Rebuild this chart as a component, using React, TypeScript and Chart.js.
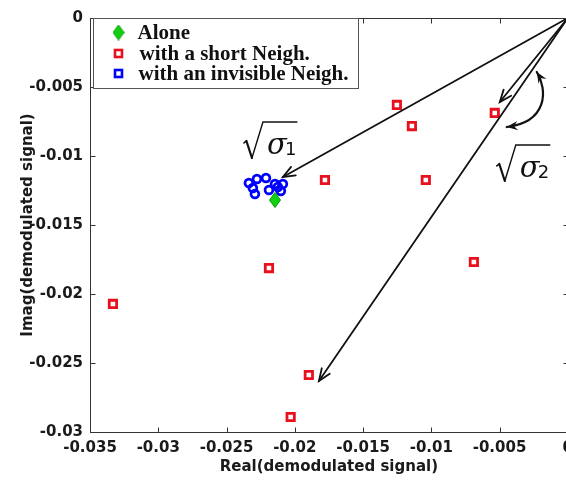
import React, { useEffect, useRef } from 'react';
import { Chart, registerables } from 'chart.js';

Chart.register(...registerables);

// ---------- data ----------
const aloneX = [-0.02145];
const aloneY = [-0.01319];

const shortX = [-0.01252, -0.01142, -0.00535, -0.01779, -0.0104, -0.02189, -0.00688, -0.03332, -0.01897, -0.0203];
const shortY = [-0.0063, -0.00783, -0.00688, -0.01174, -0.01174, -0.01812, -0.01768, -0.02072, -0.02587, -0.02891];

const invisX = [-0.02336, -0.02277, -0.02211, -0.02307, -0.02292, -0.02189, -0.02124, -0.02087, -0.02102, -0.02145];
const invisY = [-0.01196, -0.01167, -0.01159, -0.01232, -0.01275, -0.01246, -0.01225, -0.01203, -0.01254, -0.01203];

const seriesNames = ['Alone', 'with a short Neigh.', 'with an invisible Neigh.'];

const xTickLabels = ['-0.035', '-0.03', '-0.025', '-0.02', '-0.015', '-0.01', '-0.005', '0'];
const yTickLabels = ['-0.03', '-0.025', '-0.02', '-0.015', '-0.01', '-0.005', '0'];

const xTitle = 'Real(demodulated signal)';
const yTitle = 'Imag(demodulated signal)';

// annotation geometry in data units
const arrowOrigin = [0, 0];
const arrowTipsX = [-0.02087, -0.01823, -0.00498];
const arrowTipsY = [-0.01152, -0.0263, -0.00609];
const curveX = [-0.00227, -0.001465, -0.001465, -0.00447];
const curveY = [-0.00391, -0.00522, -0.00754, -0.0079];
const sigmaX = [-0.02365, -0.005126];
const sigmaY = [-0.007536, -0.009202];
const sigmaSubs = ['1', '2'];

const toPts = (xs: number[], ys: number[]) => xs.map((x, i) => ({ x, y: ys[i] }));

function makeDiamond(w: number, h: number, fill: string, stroke: string) {
  const c = document.createElement('canvas');
  c.width = w;
  c.height = h;
  const g = c.getContext('2d')!;
  g.beginPath();
  g.moveTo(w / 2, 0.5);
  g.lineTo(w - 0.5, h / 2);
  g.lineTo(w / 2, h - 0.5);
  g.lineTo(0.5, h / 2);
  g.closePath();
  g.fillStyle = fill;
  g.fill();
  g.strokeStyle = stroke;
  g.lineWidth = 1;
  g.stroke();
  return c;
}

function vHead(ctx: CanvasRenderingContext2D, x: number, y: number, dx: number, dy: number, len = 13, ang = 0.38) {
  const a = Math.atan2(dy, dx);
  ctx.beginPath();
  ctx.moveTo(x - len * Math.cos(a - ang), y - len * Math.sin(a - ang));
  ctx.lineTo(x, y);
  ctx.lineTo(x - len * Math.cos(a + ang), y - len * Math.sin(a + ang));
  ctx.stroke();
}

function fHead(ctx: CanvasRenderingContext2D, x: number, y: number, dx: number, dy: number, len = 12, ang = 0.4) {
  const a = Math.atan2(dy, dx);
  ctx.beginPath();
  ctx.moveTo(x - len * Math.cos(a - ang), y - len * Math.sin(a - ang));
  ctx.lineTo(x, y);
  ctx.lineTo(x - len * Math.cos(a + ang), y - len * Math.sin(a + ang));
  ctx.lineTo(x - len * 0.6 * Math.cos(a), y - len * 0.6 * Math.sin(a));
  ctx.closePath();
  ctx.fill();
}

const annotPlugin = {
  id: 'annot',
  afterDatasetsDraw(chart: any) {
    const { ctx, scales } = chart;
    const sx = scales.x, sy = scales.y;
    const px = (v: number) => sx.getPixelForValue(v);
    const py = (v: number) => sy.getPixelForValue(v);
    ctx.save();
    ctx.strokeStyle = '#111';
    ctx.fillStyle = '#111';
    ctx.lineWidth = 1.8;
    ctx.lineCap = 'round';
    const ox = px(arrowOrigin[0]), oy = py(arrowOrigin[1]);
    arrowTipsX.forEach((tx, i) => {
      const x = px(tx), y = py(arrowTipsY[i]);
      ctx.beginPath();
      ctx.moveTo(ox, oy);
      ctx.lineTo(x, y);
      ctx.stroke();
      vHead(ctx, x, y, x - ox, y - oy);
    });
    // curved double arrow
    const cp = curveX.map((cx, i) => [px(cx), py(curveY[i])]);
    ctx.lineWidth = 2.2;
    ctx.beginPath();
    ctx.moveTo(cp[0][0], cp[0][1]);
    ctx.bezierCurveTo(cp[1][0], cp[1][1], cp[2][0], cp[2][1], cp[3][0], cp[3][1]);
    ctx.stroke();
    fHead(ctx, cp[0][0], cp[0][1], cp[0][0] - cp[1][0], cp[0][1] - cp[1][1]);
    fHead(ctx, cp[3][0], cp[3][1], cp[3][0] - cp[2][0], cp[3][1] - cp[2][1]);
    // sqrt(sigma) labels
    sigmaX.forEach((sxv, i) => {
      const x = px(sxv), y = py(sigmaY[i]);
      ctx.lineWidth = 1.6;
      ctx.beginPath();
      ctx.moveTo(x - 1, y + 21);
      ctx.lineTo(x + 1.5, y + 19);
      ctx.stroke();
      ctx.lineWidth = 2.2;
      ctx.beginPath();
      ctx.moveTo(x + 1.5, y + 19);
      ctx.lineTo(x + 7, y + 36);
      ctx.stroke();
      ctx.lineWidth = 1.4;
      ctx.beginPath();
      ctx.moveTo(x + 7, y + 36);
      ctx.lineTo(x + 18, y);
      ctx.lineTo(x + 52, y);
      ctx.stroke();
      ctx.font = 'italic 29px "DejaVu Serif"';
      ctx.textAlign = 'left';
      ctx.textBaseline = 'alphabetic';
      ctx.fillText('σ', x + 22, y + 32);
      ctx.font = '18px "DejaVu Sans"';
      ctx.fillText(sigmaSubs[i], x + 40, y + 33);
    });
    ctx.restore();
  },
  afterDraw(chart: any) {
    const { ctx, chartArea: a, scales } = chart;
    ctx.save();
    // frame
    ctx.strokeStyle = '#333';
    ctx.lineWidth = 1;
    const L = Math.round(a.left) + 0.5, R = Math.round(a.right) + 0.5;
    const T = Math.round(a.top) + 0.5, B = Math.round(a.bottom) + 0.5;
    ctx.beginPath();
    ctx.rect(L, T, R - L, B - T);
    ctx.stroke();
    const tl = 5;
    ctx.beginPath();
    scales.x.ticks.forEach((t: any) => {
      const x = Math.round(scales.x.getPixelForValue(t.value)) + 0.5;
      ctx.moveTo(x, B);
      ctx.lineTo(x, B - tl);
      ctx.moveTo(x, T);
      ctx.lineTo(x, T + tl);
    });
    scales.y.ticks.forEach((t: any) => {
      const y = Math.round(scales.y.getPixelForValue(t.value)) + 0.5;
      ctx.moveTo(L, y);
      ctx.lineTo(L + tl, y);
      ctx.moveTo(R, y);
      ctx.lineTo(R - tl, y);
    });
    ctx.stroke();
    // legend
    const lx = L + 3, ly = T;
    ctx.fillStyle = '#fff';
    ctx.fillRect(lx, ly, 265, 70);
    ctx.strokeStyle = '#555';
    ctx.strokeRect(lx, ly, 265, 70);
    const rows = [14, 35, 55];
    const mx = lx + 25;
    ctx.drawImage(diamondImg, mx - diamondImg.width / 2, ly + rows[0] - diamondImg.height / 2);
    ctx.lineWidth = 2.6;
    ctx.strokeStyle = '#e8101c';
    ctx.fillStyle = '#fff';
    ctx.fillRect(mx - 3.5, ly + rows[1] - 3.5, 7, 7);
    ctx.strokeRect(mx - 3.5, ly + rows[1] - 3.5, 7, 7);
    ctx.strokeStyle = '#0000ff';
    ctx.strokeRect(mx - 3.5, ly + rows[2] - 3.5, 7, 7);
    ctx.fillStyle = '#111';
    ctx.font = 'bold 21px "Liberation Serif"';
    ctx.textBaseline = 'middle';
    ctx.textAlign = 'left';
    ctx.fillText(seriesNames[0], lx + 44, ly + rows[0] + 1);
    ctx.fillText(seriesNames[1], lx + 46, ly + rows[1] + 1);
    ctx.fillText(seriesNames[2], lx + 45, ly + rows[2] + 1);
    ctx.restore();
  },
};

let diamondImg: HTMLCanvasElement;

export default function App() {
  const ref = useRef<HTMLCanvasElement>(null);
  useEffect(() => {
    document.body.style.margin = '0';
    diamondImg = makeDiamond(12, 16, '#10d010', '#089a08');
    const tickFont = { family: '"DejaVu Sans"', weight: 'bold' as const, size: 15 };
    const titleFont = { family: '"DejaVu Sans"', weight: 'bold' as const, size: 15 };
    const chart = new Chart(ref.current!, {
      type: 'scatter',
      data: {
        datasets: [
          {
            label: seriesNames[2],
            data: toPts(invisX, invisY),
            pointStyle: 'circle',
            pointRadius: 3.9,
            borderWidth: 2.8,
            borderColor: '#0000ff',
            backgroundColor: 'rgba(0,0,0,0)',
            order: 3,
          },
          {
            label: seriesNames[1],
            data: toPts(shortX, shortY),
            pointStyle: 'rect',
            pointRadius: 5.2,
            borderWidth: 2.8,
            borderColor: '#e8101c',
            backgroundColor: '#ffffff',
            order: 2,
          },
          {
            label: seriesNames[0],
            data: toPts(aloneX, aloneY),
            pointStyle: diamondImg,
            pointRadius: 8,
            borderColor: '#089a08',
            backgroundColor: '#10d010',
            order: 1,
          },
        ],
      },
      options: {
        animation: false,
        responsive: false,
        events: [],
        layout: { padding: { top: 18, right: 12, left: 0, bottom: 0 } },
        plugins: { legend: { display: false }, tooltip: { enabled: false } },
        scales: {
          x: {
            type: 'linear',
            position: 'bottom',
            min: -0.035,
            max: 0,
            grid: { display: false, drawTicks: false, tickLength: 0 },
            border: { display: false },
            ticks: {
              stepSize: 0.005,
              autoSkip: false,
              maxRotation: 0,
              padding: 7,
              color: '#1a1a1a',
              font: tickFont,
              callback: (_v: any, i: number) => xTickLabels[i],
            },
            title: { display: true, text: xTitle, color: '#1a1a1a', font: titleFont, padding: { top: 0, bottom: 4 } },
            afterFit: (s: any) => {
              s.height = 48;
            },
          },
          y: {
            type: 'linear',
            min: -0.03,
            max: 0,
            grid: { display: false, drawTicks: false, tickLength: 0 },
            border: { display: false },
            ticks: {
              stepSize: 0.005,
              autoSkip: false,
              padding: 7,
              color: '#1a1a1a',
              font: tickFont,
              callback: (_v: any, i: number) => yTickLabels[i],
            },
            title: { display: true, text: yTitle, color: '#1a1a1a', font: titleFont, padding: { top: 19, bottom: 0 } },
            afterFit: (s: any) => {
              s.width = 90;
            },
          },
        },
      },
      plugins: [annotPlugin],
    });
    return () => chart.destroy();
  }, []);
  return (
    <div style={{ width: 566, height: 480, overflow: 'hidden', position: 'relative', background: '#fff' }}>
      <canvas ref={ref} width={580} height={480} style={{ display: 'block', width: 580, height: 480 }} />
    </div>
  );
}
